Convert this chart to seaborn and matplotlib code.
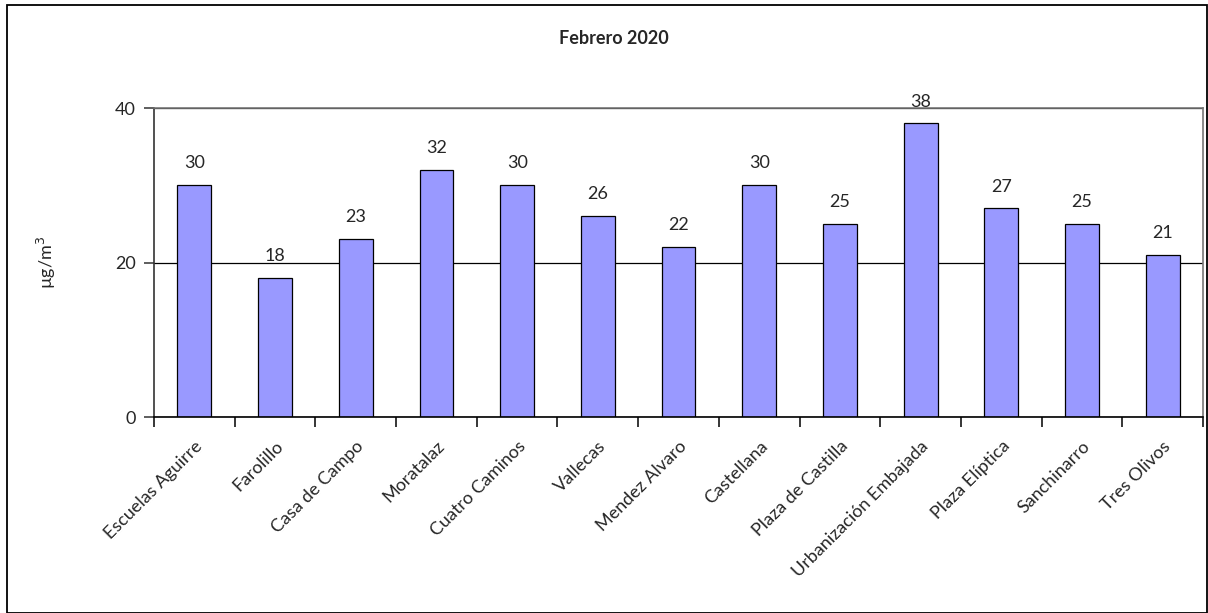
import numpy as np
import pandas as pd
import matplotlib
matplotlib.use("Agg")
import matplotlib.pyplot as plt
import seaborn as sns
from matplotlib.patches import Rectangle

# Data
stations = ["Escuelas Aguirre", "Farolillo", "Casa de Campo", "Moratalaz",
            "Cuatro Caminos", "Vallecas", "Mendez Alvaro", "Castellana",
            "Plaza de Castilla", "Urbanización Embajada", "Plaza Elíptica",
            "Sanchinarro", "Tres Olivos"]
values = [30, 18, 23, 32, 30, 26, 22, 30, 25, 38, 27, 25, 21]
y_ticks = [0, 20, 40]
title = "Febrero 2020"

df = pd.DataFrame({"station": stations, "value": values})

sns.set_style("white")
plt.rcParams["font.family"] = ["Lato", "DejaVu Sans"]
FS = 13

fig = plt.figure(figsize=(12.08, 6.13), dpi=100)
ax = fig.add_axes([0.1275, 0.3197, 0.8684, 0.5041])

sns.barplot(data=df, x="station", y="value", color="#9999FF",
            edgecolor="black", linewidth=0.9, width=0.42, saturation=1, ax=ax)

ax.set_ylim(0, 40)
ax.set_xlim(-0.5, len(stations) - 0.5)
ax.set_yticks(y_ticks)
ax.yaxis.grid(True, color="black", linewidth=0.9)
ax.set_axisbelow(True)

# category boundary ticks (Excel style)
ax.set_xticks(np.arange(len(stations)))
ax.set_xticklabels(stations, rotation=45, ha="right", rotation_mode="anchor", fontsize=FS)
ax.tick_params(axis="x", which="major", length=0, pad=15)
ax.set_xticks(np.arange(-0.5, len(stations), 1), minor=True)
ax.tick_params(axis="x", which="minor", bottom=True, length=7, width=1.1,
               color="black", direction="out")
ax.tick_params(axis="y", left=True, length=7, width=1.1, color="#333333",
               direction="out", labelsize=FS, pad=6)

for side in ["top", "right"]:
    ax.spines[side].set_color("#777777")
    ax.spines[side].set_linewidth(1.2)
ax.spines["left"].set_color("#333333")
ax.spines["bottom"].set_color("black")
for side in ["left", "bottom"]:
    ax.spines[side].set_linewidth(1.2)

for c in ax.containers:
    ax.bar_label(c, labels=[str(v) for v in values], padding=10, fontsize=FS)

ax.set_xlabel("")
ax.set_ylabel("µg/m$^3$", fontsize=FS, labelpad=41)
fig.text(0.5085, 0.938, title, ha="center", va="center", fontsize=FS, fontweight="bold")

# outer chart border
fig.patches.append(Rectangle((0.006, 0.0), 0.993, 0.992, transform=fig.transFigure,
                             fill=False, edgecolor="black", linewidth=1.3))

fig.savefig("out.png", dpi=100)
